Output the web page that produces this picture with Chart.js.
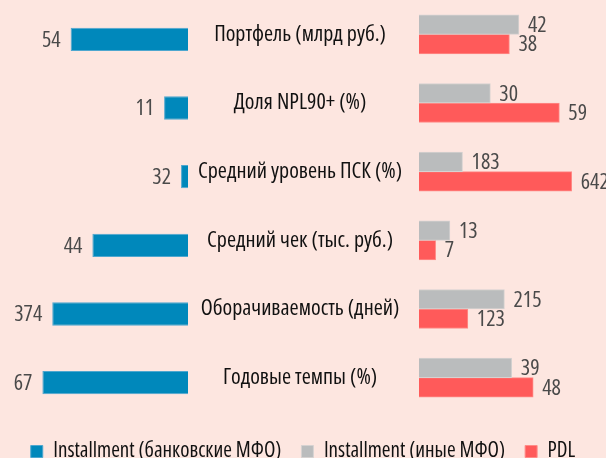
<!DOCTYPE html>
<html>
<head>
<meta charset="utf-8">
<script src="https://cdn.jsdelivr.net/npm/chart.js@4"></script>
<style>
  html, body { margin: 0; padding: 0; background: #fde6e0; }
  #wrap { width: 606px; height: 458px; }
</style>
</head>
<body>
<div id="wrap"><canvas id="myChart"></canvas></div>
<script>
const categories = [
  "Портфель (млрд руб.)",
  "Доля NPL90+ (%)",
  "Средний уровень ПСК (%)",
  "Средний чек (тыс. руб.)",
  "Оборачиваемость (дней)",
  "Годовые темпы (%)",
];
const bankInstallment = [54, 11, 32, 44, 374, 67];
const otherInstallment = [42, 30, 183, 13, 215, 39];
const pdl = [38, 59, 642, 7, 123, 48];
// the original draws some rows at a reduced scale (ПСК x0.1, days x1/6)
const rowScale = [1, 1, 0.1, 1, 0.167, 1];

const FONT = "'Open Sans', 'Roboto Condensed', sans-serif";
const FONT_SIZE = 22;

const rowLabels = {
  id: "rowLabels",
  afterDatasetsDraw(chart) {
    const { ctx, scales } = chart;
    ctx.save();
    ctx.textBaseline = "middle";
    ctx.font = `condensed ${FONT_SIZE}px ${FONT}`;
    ctx.fillStyle = "#111";
    ctx.textAlign = "center";
    categories.forEach((c, i) => {
      ctx.fillText(c, scales.xm.getPixelForValue(0.485), scales.y.getPixelForValue(i));
    });
    // value labels
    const raw = [bankInstallment, otherInstallment, pdl];
    ctx.fillStyle = "#4a4a4a";
    chart.data.datasets.forEach((ds, d) => {
      chart.getDatasetMeta(d).data.forEach((bar, i) => {
        ctx.textAlign = d === 0 ? "right" : "left";
        ctx.fillText(raw[d][i], d === 0 ? bar.x - 10 : bar.x + 9, bar.y + 1);
      });
    });
    ctx.restore();
  },
};

const data = {
  labels: categories,
  datasets: [
    {
      label: "Installment (банковские МФО)",
      data: bankInstallment.map((v, i) => ({ x: v * rowScale[i], y: i })),
      xAxisID: "xl",
      yAxisID: "yb",
      backgroundColor: "#0088bb",
      borderColor: "#4ea7cf",
      borderWidth: 1,
      grouped: false,
      categoryPercentage: 1,
      barPercentage: 0.34,
    },
    {
      label: "Installment (иные МФО)",
      data: otherInstallment.map((v, i) => v * rowScale[i]),
      xAxisID: "xr",
      yAxisID: "y",
      backgroundColor: "#babcbd",
      borderColor: "#d6d2d1",
      borderWidth: 1,
      barThickness: 19.5,
    },
    {
      label: "PDL",
      data: pdl.map((v, i) => v * rowScale[i]),
      xAxisID: "xr",
      yAxisID: "y",
      backgroundColor: "#ff5a5a",
      borderColor: "#ff8c88",
      borderWidth: 1,
      barThickness: 19.5,
    },
  ],
};

const config = {
  type: "bar",
  data: data,
  plugins: [rowLabels],
  options: {
    indexAxis: "y",
    responsive: true,
    maintainAspectRatio: false,
    animation: false,
    layout: { padding: { top: 0, bottom: -14, left: 0, right: 0 } },
    scales: {
      xl: { type: "linear", axis: "x", position: "bottom", stack: "cols", stackWeight: 188, weight: 1,
            reverse: true, min: 0, max: 86.5, display: false },
      xm: { type: "linear", axis: "x", position: "bottom", stack: "cols", stackWeight: 231, weight: 2,
            min: 0, max: 1, display: false },
      xr: { type: "linear", axis: "x", position: "bottom", stack: "cols", stackWeight: 187, weight: 3,
            min: 0, max: 78.6, display: false },
      y: { type: "category", axis: "y", display: false },
      yb: { type: "linear", axis: "y", display: false, reverse: true, offset: false,
            bounds: "data", min: -0.573, max: 5.427 },
    },
    plugins: {
      tooltip: { enabled: false },
      legend: {
        position: "bottom",
        // empty title only pushes the legend row down a little
        title: { display: true, text: "", padding: 0, font: { size: 9, lineHeight: 1 } },
        labels: {
          boxWidth: 12,
          boxHeight: 12,
          padding: 20,
          color: "#111",
          // "condensed" goes into the canvas font string ahead of the size
          font: { family: FONT, size: 21, weight: "condensed" },
        },
      },
    },
  },
};

const myChart = new Chart(document.getElementById("myChart"), config);
</script>
</body>
</html>
